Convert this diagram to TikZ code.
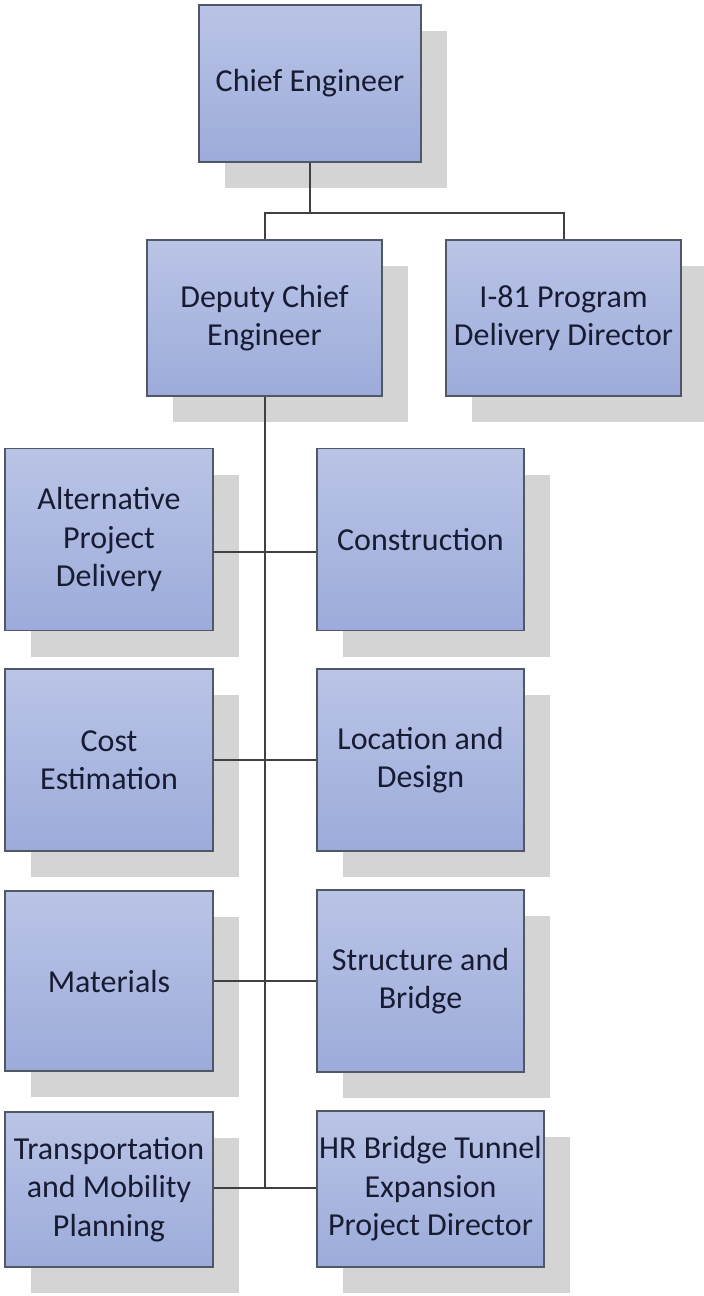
\documentclass[tikz,border=0pt]{standalone}
\usepackage{fontspec}
\setmainfont{Carlito}
\usepackage{tikz}
\usetikzlibrary{shadows}
\definecolor{boxtop}{RGB}{186,196,230}
\definecolor{boxbot}{RGB}{156,171,218}
\definecolor{boxline}{RGB}{80,88,100}
\definecolor{shadegray}{RGB}{212,212,212}
\definecolor{inkblue}{RGB}{24,28,50}
\definecolor{wire}{RGB}{64,64,64}

\begin{document}
\begin{tikzpicture}[x=1pt,y=-1pt,
    orgbox/.style={draw=boxline,line width=1.3pt,top color=boxtop,bottom color=boxbot,
      text=inkblue,align=center,inner sep=0pt,minimum width=208pt,minimum height=182pt,
      font=\fontsize{32}{38.5}\selectfont,
      general shadow={fill=shadegray,shadow xshift=26pt,shadow yshift=-26pt}},
    wireline/.style={draw=wire,line width=2pt}]
      \useasboundingbox (0,0) rectangle (704,1296);

      \node (chief) at (310,83.5) [orgbox,minimum width=222pt,minimum height=157pt] {Chief Engineer};
      \node (dep) at (264.5,318) [orgbox,minimum width=235pt,minimum height=156pt] {Deputy Chief\\Engineer};
      \node (i81) at (563.5,318) [orgbox,minimum width=235pt,minimum height=156pt] {I-81 Program\\Delivery Director};

      \node (alt) at (109,539.5) [orgbox] {Alternative\\Project\\Delivery};
      \node (con) at (420.5,539.5) [orgbox,minimum width=207pt] {Construction};
      \node (cost) at (109,760) [orgbox] {Cost\\Estimation};
      \node (loc) at (420.5,760) [orgbox,minimum width=207pt] {Location and\\Design};
      \node (mat) at (109,981) [orgbox,minimum height=180pt] {Materials};
      \node (str) at (420.5,981) [orgbox,minimum width=207pt] {Structure and\\Bridge};
      \node (tmp) at (109,1189.5) [orgbox,minimum height=155pt] {Transportation\\and Mobility\\Planning};
      \node (hrbt) at (430.5,1189) [orgbox,minimum width=227pt,minimum height=156pt] {HR Bridge Tunnel\\Expansion\\Project Director};

      \coordinate (bar) at (309,213);
      \coordinate (j1) at (265,552);
      \coordinate (j2) at (265,760);
      \coordinate (j3) at (265,981);
      \coordinate (j4) at (265,1188);

      \draw[wireline] (chief.south) -- (chief.south |- bar);
      \draw[wireline] (dep.north) |- (bar) -| (i81.north);
      \draw[wireline] (dep.south) -- (dep.south |- j4);

      \draw[wireline] (alt.east |- j1) -- (con.west |- j1);
      \draw[wireline] (cost.east |- j2) -- (loc.west |- j2);
      \draw[wireline] (mat.east |- j3) -- (str.west |- j3);
      \draw[wireline] (tmp.east |- j4) -- (hrbt.west |- j4);

    \end{tikzpicture}
\end{document}
